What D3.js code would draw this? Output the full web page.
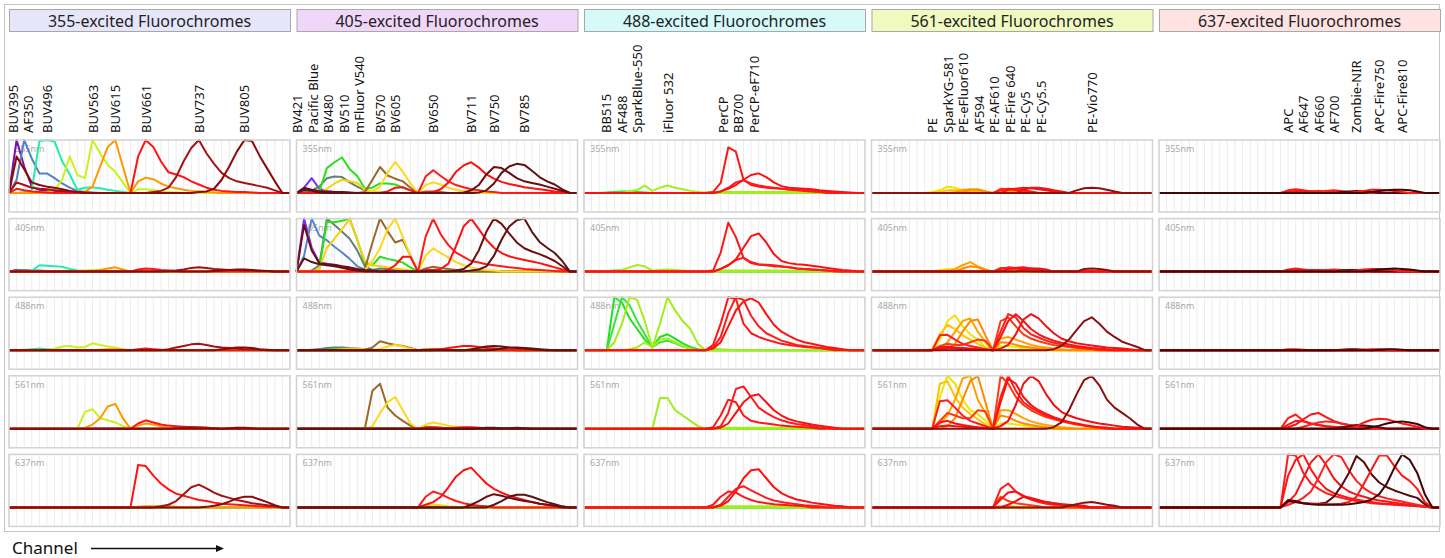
<!DOCTYPE html>
<html>
<head>
<meta charset="utf-8">
<script src="https://cdn.jsdelivr.net/npm/d3@7"></script>
<style>
  body { margin: 0; background: #fff; }
  svg { display: block; font-family: 'Noto Sans', 'Open Sans', sans-serif; }
</style>
</head>
<body>
<svg id="chart" width="1445" height="558"></svg>
<script>
// channels per laser detector array
const NCH = 38;
const lasers = ['355nm', '405nm', '488nm', '561nm', '637nm'];
const titles = ['355-excited Fluorochromes', '405-excited Fluorochromes', '488-excited Fluorochromes',
  '561-excited Fluorochromes', '637-excited Fluorochromes'];

// spectra: one entry per laser row, each a list of segments [startChannel, values...]
const names355 = ['BUV395', 'AF350', 'BUV496', 'BUV563', 'BUV615', 'BUV661', 'BUV737', 'BUV805'];
const colors355 = ['#7a10aa', '#5283c4', '#24eea4', '#c8f21e', '#ff9800', '#ff1414', '#a31414', '#8c0909'];
const spectra355 = [
  [[[0, 0, 1.0, 0.5, 0.12, 0.06, 0.04, 0.03, 0.02, 0.01]], [[0, 0, 0.03, 0.02, 0.01]], [], [], []],
  [[[0, 0, 0.25, 1.0, 0.65, 0.37, 0.37, 0.28, 0.18, 0.1, 0.04, 0.02, 0.01]], [[0, 0, 0.02, 0.03, 0.02, 0.02, 0.01]], [], [], []],
  [[[2, 0.02, 0.05, 0.98, 1.0, 0.97, 0.6, 0.35, 0.06, 0.1, 0.11, 0.09, 0.06, 0.04, 0.02]],
   [[2, 0.01, 0.01, 0.12, 0.11, 0.1, 0.09, 0.05, 0.02, 0.01]],
   [[2, 0.01, 0.02, 0.03, 0.02, 0.02, 0.01]], [], []],
  [[[5, 0.02, 0.05, 0.25, 0.69, 0.34, 0.28, 1.0, 0.75, 0.53, 0.4, 0.2, 0, 0.07, 0.07, 0.05, 0.03, 0.02, 0.01]],
   [[9, 0.01, 0.02, 0.03, 0.02, 0.01]],
   [[6, 0.03, 0.07, 0.08, 0.05, 0.06, 0.13, 0.1, 0.07, 0.05, 0.02, 0]],
   [[9, 0, 0.32, 0.37, 0.2, 0.16, 0.12, 0.05, 0]], []],
  [[[10, 0.02, 0.12, 0.5, 0.87, 1.0, 0.5, 0, 0.22, 0.29, 0.26, 0.18, 0.12, 0.09, 0.06, 0.04, 0.03, 0.02, 0.01]],
   [[11, 0.01, 0.03, 0.06, 0.08, 0.04, 0, 0.02, 0.02, 0.01]],
   [[12, 0.01, 0.02, 0.02, 0.01]],
   [[10, 0.02, 0.08, 0.2, 0.42, 0.47, 0.2, 0, 0.06, 0.1, 0.08, 0.05, 0.03, 0.02, 0.01]],
   [[17, 0.01, 0.02, 0.02, 0.02, 0.02, 0.01]]],
  [[[0, 0, 0.08, 0.05, 0.03, 0.02, 0.01], [16, 0, 0.69, 1.0, 0.87, 0.6, 0.39, 0.35, 0.3, 0.22, 0.16, 0.1, 0.06, 0.04, 0.03, 0.02, 0.02, 0.01]],
   [[16, 0, 0.04, 0.06, 0.05, 0.03, 0.02, 0.01]],
   [[16, 0, 0.02, 0.03, 0.02, 0.01]],
   [[16, 0, 0.1, 0.16, 0.12, 0.08, 0.06, 0.05, 0.04, 0.03, 0.03, 0.02, 0.01]],
   [[16, 0, 0.8, 0.78, 0.6, 0.45, 0.34, 0.26, 0.22, 0.18, 0.14, 0.12, 0.09, 0.07, 0.06, 0.05, 0.04, 0.03, 0.02, 0.01, 0.01, 0]]],
  [[[0, 0, 0.2, 0.15, 0.1, 0.08, 0.07, 0.05, 0.04, 0.03, 0.02], [19, 0.02, 0.04, 0.1, 0.3, 0.6, 0.85, 1.0, 0.75, 0.55, 0.38, 0.28, 0.22, 0.19, 0.16, 0.13, 0.1, 0.05, 0]],
   [[21, 0.01, 0.02, 0.04, 0.07, 0.08, 0.07, 0.05, 0.04, 0.03, 0.03, 0.02, 0.02, 0.01, 0.01]],
   [[21, 0.02, 0.05, 0.08, 0.11, 0.12, 0.1, 0.07, 0.05, 0.04, 0.03, 0.02, 0.02, 0.01]],
   [[22, 0.01, 0.02, 0.03, 0.02, 0.02, 0.01]],
   [[20, 0.02, 0.05, 0.12, 0.25, 0.38, 0.43, 0.36, 0.28, 0.22, 0.18, 0.14, 0.11, 0.08, 0.06, 0.04, 0.02, 0]]],
  [[[0, 0, 0.69, 0.45, 0.2, 0.15, 0.12, 0.1, 0.07, 0.04, 0.02, 0.01], [25, 0.02, 0.03, 0.08, 0.25, 0.5, 0.78, 1.0, 0.98, 0.7, 0.46, 0.22, 0]],
   [[27, 0.01, 0.02, 0.03, 0.04, 0.04, 0.03, 0.02, 0.01]],
   [[28, 0.02, 0.03, 0.05, 0.05, 0.04, 0.02, 0.01]],
   [[29, 0.01, 0.02, 0.02, 0.01]],
   [[26, 0.01, 0.03, 0.06, 0.11, 0.17, 0.2, 0.2, 0.15, 0.1, 0.04, 0]]]
];

const names405 = ['BV421', 'Pacific Blue', 'BV480', 'BV510', 'mFluor V540', 'BV570', 'BV605', 'BV650', 'BV711', 'BV750', 'BV785'];
const colors405 = ['#7b2cf5', '#5486c8', '#5f8271', '#2ae01c', '#f7cf10', '#9a682c', '#ffd81c', '#ff1a1a', '#ff1010', '#6e0e0e', '#5e1313'];
const spectra405 = [
  [[[0, 0, 0.1, 0.28, 0.08, 0.03, 0.02, 0.01]], [[0, 0, 1.0, 0.45, 0.17, 0.15, 0.12, 0.09, 0.06, 0.03, 0.02, 0.01]], [], [], []],
  [[[0, 0, 0.02, 0.05, 0.03, 0.03, 0.02, 0.01]], [[0, 0, 0.3, 1.0, 0.68, 0.59, 0.47, 0.36, 0.24, 0.1, 0.04, 0.02]], [[2, 0.01, 0.02, 0.02, 0.01]], [], []],
  [[[1, 0.02, 0.05, 0.12, 0.28, 0.31, 0.3, 0.2, 0.12, 0.05, 0.02]],
   [[2, 0.02, 0.12, 1.0, 0.88, 0.75, 0.62, 0.4, 0.1, 0.03, 0.06, 0.05, 0.04, 0.02, 0]],
   [[3, 0.02, 0.04, 0.05, 0.05, 0.04, 0.03, 0.02, 0.01]], [], []],
  [[[3, 0.02, 0.47, 0.58, 0.67, 0.45, 0.32, 0.08, 0.1, 0.18, 0.18, 0.16, 0.1, 0.05, 0]],
   [[3, 0.05, 0.94, 0.93, 0.96, 1.0, 0.6, 0.16, 0.12, 0.28, 0.24, 0.21, 0.17, 0.08, 0]],
   [[4, 0.01, 0.02, 0.02, 0.01]], [], []],
  [[[4, 0.08, 0.18, 0.25, 0.22, 0.19, 0.06, 0.03, 0.02, 0.01]],
   [[3, 0.05, 0.45, 0.62, 0.8, 0.99, 0.6, 0.2, 0.12, 0.1, 0.08, 0.06, 0.04, 0.02]],
   [[6, 0.02, 0.03, 0.03, 0.02, 0.01]], [[7, 0.01, 0.01]], []],
  [[[9, 0.02, 0.25, 0.49, 0.33, 0.27, 0.22, 0.1, 0, 0.03, 0.03, 0.02]],
   [[8, 0.02, 0.05, 0.55, 1.0, 0.76, 0.55, 0.6, 0.3, 0, 0.06, 0.09, 0.07, 0.05, 0.03, 0.02]],
   [[9, 0.01, 0.05, 0.17, 0.13, 0.1, 0.08, 0.04, 0, 0.02, 0.02, 0.01]],
   [[9, 0, 0.72, 0.85, 0.4, 0.25, 0.15, 0.06, 0, 0.04, 0.03, 0.02]],
   [[17, 0.01, 0.02, 0.01]]],
  [[[10, 0.03, 0.12, 0.38, 0.59, 0.4, 0.18, 0, 0.15, 0.2, 0.16, 0.1, 0.06, 0.04, 0.02]],
   [[9, 0.03, 0.2, 0.44, 0.8, 1.0, 0.65, 0.3, 0, 0.3, 0.44, 0.35, 0.27, 0.18, 0.12, 0.08, 0.05, 0.03, 0.02]],
   [[11, 0.03, 0.07, 0.1, 0.07, 0.03, 0, 0.02, 0.02, 0.01]],
   [[10, 0.05, 0.3, 0.5, 0.6, 0.35, 0.1, 0, 0.08, 0.12, 0.09, 0.06, 0.04, 0.02]],
   [[17, 0.03, 0.05, 0.04, 0.02, 0.01]]],
  [[[16, 0, 0.31, 0.43, 0.32, 0.22, 0.15, 0.11, 0.07, 0.05, 0.03, 0.02]],
   [[16, 0, 0.66, 1.0, 0.7, 0.5, 0.36, 0.28, 0.2, 0.17, 0.14, 0.12, 0.1, 0.08, 0.07, 0.05, 0.04, 0.03, 0.02, 0.01]],
   [[17, 0.01, 0.02, 0.02, 0.01]],
   [[17, 0.02, 0.03, 0.02, 0.01]],
   [[16, 0, 0.2, 0.3, 0.25, 0.18, 0.12, 0.08, 0.05, 0.03, 0.02]]],
  [[[12, 0.03, 0.1, 0.11, 0.05, 0, 0.01, 0.02, 0.07, 0.2, 0.4, 0.52, 0.58, 0.48, 0.35, 0.27, 0.21, 0.17, 0.14, 0.11, 0.09, 0.07, 0.05, 0.03, 0.02, 0]],
   [[12, 0.03, 0.12, 0.28, 0.28, 0, 0.03, 0.03, 0.05, 0.15, 0.48, 0.85, 1.0, 0.8, 0.6, 0.45, 0.35, 0.29, 0.25, 0.22, 0.19, 0.16, 0.12, 0.08, 0.04, 0]],
   [[19, 0.02, 0.04, 0.06, 0.08, 0.08, 0.06, 0.04, 0.03, 0.02, 0.01]],
   [[20, 0.01, 0.02, 0.03, 0.03, 0.02, 0.01]],
   [[16, 0, 0.05, 0.1, 0.2, 0.38, 0.58, 0.7, 0.75, 0.6, 0.45, 0.35, 0.28, 0.22, 0.18, 0.14, 0.1, 0.07, 0.05, 0.03, 0.01]]],
  [[[0, 0, 0.1, 0.06, 0.04, 0.03, 0.02, 0.02, 0.01], [22, 0.01, 0.05, 0.15, 0.35, 0.49, 0.47, 0.38, 0.28, 0.22, 0.19, 0.16, 0.12, 0.08, 0.04, 0]],
   [[0, 0, 0.88, 0.4, 0.16, 0.14, 0.13, 0.1, 0.08, 0.05, 0.03, 0.02], [21, 0.02, 0.05, 0.15, 0.4, 0.75, 1.0, 0.9, 0.72, 0.55, 0.44, 0.38, 0.33, 0.27, 0.2, 0.1, 0]],
   [[23, 0.02, 0.04, 0.07, 0.08, 0.07, 0.05, 0.04, 0.03, 0.02, 0.01]],
   [[24, 0.01, 0.02, 0.02, 0.01]],
   [[23, 0.05, 0.12, 0.2, 0.25, 0.22, 0.18, 0.15, 0.12, 0.1, 0.07, 0.05, 0.03]]],
  [[[0, 0, 0.06, 0.04, 0.01], [24, 0.01, 0.05, 0.18, 0.38, 0.5, 0.55, 0.53, 0.42, 0.3, 0.22, 0.16, 0.07, 0]],
   [[0, 0, 0.25, 0.18, 0.14, 0.12, 0.1, 0.07, 0.04, 0.02], [23, 0.02, 0.04, 0.1, 0.3, 0.6, 0.85, 0.97, 1.0, 0.75, 0.56, 0.45, 0.35, 0.2, 0]],
   [[26, 0.01, 0.03, 0.05, 0.05, 0.04, 0.03, 0.02, 0.01]],
   [[28, 0.01, 0.02, 0.01]],
   [[26, 0.05, 0.12, 0.2, 0.24, 0.24, 0.2, 0.15, 0.1, 0.06, 0.02]]]
];

const names488 = ['BB515', 'AF488', 'SparkBlue-550', 'iFluor 532', 'PerCP', 'BB700', 'PerCP-eF710'];
const colors488 = ['#1fe21f', '#3be23b', '#a4ee1e', '#9fee1a', '#ff1616', '#ff1b1b', '#ff1010'];
const spectra488 = [
  [[[3, 0.01, 0.02, 0.03, 0.03, 0.02, 0.01]], [[3, 0.01, 0.02, 0.02, 0.01]],
   [[3, 0, 1.0, 0.9, 0.6, 0.4, 0.2, 0.06, 0.25, 0.3, 0.22, 0.13, 0.06, 0.02, 0]], [], []],
  [[[4, 0.01, 0.02, 0.02, 0.01]], [[5, 0.01, 0.01]],
   [[3, 0, 0.5, 1.0, 0.85, 0.55, 0.3, 0.05, 0.15, 0.18, 0.13, 0.07, 0.03, 0]], [], []],
  [[[6, 0.03, 0.06, 0.14, 0.04, 0.1, 0.14, 0.1, 0.07, 0.04, 0.02, 0]],
   [[5, 0.03, 0.08, 0.125, 0.1, 0.02, 0.03, 0.04, 0.03, 0.02, 0.01]],
   [[3, 0, 0.15, 0.5, 1.0, 0.95, 0.55, 0.05, 0.2, 0.22, 0.15, 0.08, 0.03, 0]],
   [[9, 0.01, 0.02, 0.02, 0.01]], []],
  [[[16, 0.01, 0.02, 0.02, 0.02, 0.02, 0.02, 0.02, 0.02, 0.02, 0.02, 0.02, 0.02, 0.02, 0.01]],
   [[16, 0.01, 0.02, 0.02, 0.02, 0.02, 0.02, 0.02, 0.02, 0.02, 0.02, 0.02, 0.02, 0.01]],
   [[6, 0.02, 0.05, 0.15, 0.05, 0.5, 1.0, 0.75, 0.55, 0.4, 0.12, 0, 0.03, 0.02, 0.01]],
   [[9, 0, 0.58, 0.58, 0.35, 0.25, 0.15, 0.05, 0, 0.02, 0.02, 0.02, 0.02, 0.02, 0.02, 0.02, 0.02, 0.02, 0.02, 0.02, 0.01]],
   [[16, 0.01, 0.02, 0.02, 0.02, 0.02, 0.02, 0.02, 0.02, 0.02, 0.02, 0.02, 0.02, 0.01]]],
  [[[17, 0.02, 0.19, 0.86, 0.78, 0.25, 0.15, 0.12, 0.1, 0.09, 0.08, 0.07, 0.06, 0.05, 0.04, 0.03, 0.02, 0.01]],
   [[17, 0.02, 0.36, 0.92, 0.65, 0.26, 0.16, 0.13, 0.12, 0.1, 0.09, 0.08, 0.06, 0.05, 0.04, 0.03, 0.02, 0.01]],
   [[16, 0, 0.1, 0.5, 1.0, 0.97, 0.5, 0.32, 0.25, 0.2, 0.16, 0.12, 0.1, 0.08, 0.06, 0.05, 0.04, 0.03, 0.02, 0.01]],
   [[17, 0.03, 0.25, 0.55, 0.5, 0.25, 0.15, 0.12, 0.1, 0.08, 0.06, 0.05, 0.04, 0.03, 0.02]],
   [[17, 0.05, 0.2, 0.3, 0.28, 0.2, 0.14, 0.1, 0.08, 0.06, 0.05, 0.04, 0.03, 0.02]]],
  [[[18, 0.03, 0.1, 0.2, 0.24, 0.18, 0.14, 0.12, 0.1, 0.08, 0.06, 0.05, 0.04, 0.03, 0.02]],
   [[18, 0.05, 0.12, 0.22, 0.26, 0.18, 0.14, 0.13, 0.12, 0.1, 0.08, 0.06, 0.05, 0.04, 0.03, 0.02]],
   [[16, 0, 0.05, 0.25, 0.7, 1.0, 0.95, 0.65, 0.45, 0.32, 0.25, 0.18, 0.14, 0.1, 0.08, 0.06, 0.04, 0.02]],
   [[18, 0.05, 0.3, 0.75, 0.8, 0.6, 0.4, 0.3, 0.22, 0.16, 0.12, 0.09, 0.07, 0.05, 0.03, 0.02]],
   [[18, 0.05, 0.2, 0.35, 0.4, 0.32, 0.25, 0.18, 0.13, 0.1, 0.08, 0.06, 0.04, 0.03, 0.02]]],
  [[[18, 0.03, 0.08, 0.15, 0.25, 0.34, 0.37, 0.3, 0.2, 0.13, 0.1, 0.09, 0.08, 0.07, 0.05, 0.04, 0.03, 0.02, 0.01]],
   [[18, 0.05, 0.12, 0.23, 0.45, 0.67, 0.72, 0.55, 0.33, 0.2, 0.16, 0.14, 0.13, 0.11, 0.09, 0.07, 0.05, 0.03, 0.02]],
   [[16, 0, 0.03, 0.15, 0.45, 0.75, 0.92, 0.98, 0.9, 0.68, 0.48, 0.35, 0.27, 0.2, 0.15, 0.12, 0.09, 0.06, 0.04, 0.02]],
   [[18, 0.02, 0.1, 0.3, 0.5, 0.62, 0.65, 0.5, 0.35, 0.25, 0.18, 0.14, 0.11, 0.08, 0.06, 0.04, 0.02]],
   [[18, 0.03, 0.12, 0.3, 0.55, 0.7, 0.72, 0.55, 0.38, 0.27, 0.2, 0.15, 0.12, 0.09, 0.07, 0.05, 0.03, 0.02]]]
];

const names561 = ['PE', 'SparkYG-581', 'PE-eFluor610', 'AF594', 'PE-AF610', 'PE-Fire 640', 'PE-Cy5', 'PE-Cy5.5', 'PE-Vio770'];
const colors561 = ['#f2e400', '#ffc400', '#ffa200', '#ff8a00', '#ff3a10', '#ff1c1c', '#ff1010', '#f01212', '#8c1010'];
const spectra561 = [
  [[[8, 0.02, 0.05, 0.12, 0.1, 0.05, 0.03, 0.02]], [[9, 0.03, 0.05, 0.04, 0.02]],
   [[8, 0, 0.2, 0.55, 0.66, 0.45, 0.3, 0.2, 0.05, 0, 0.07, 0.08, 0.06, 0.04, 0.03, 0.02]],
   [[8, 0, 0.6, 1.0, 0.85, 0.55, 0.35, 0.28, 0.15, 0, 0.1, 0.1, 0.08, 0.06, 0.04, 0.03, 0.02]], []],
  [[[9, 0.02, 0.05, 0.05, 0.04, 0.03, 0.01]], [[9, 0.01, 0.02, 0.02, 0.01]],
   [[8, 0.02, 0.3, 0.48, 0.4, 0.28, 0.2, 0.12, 0.05, 0]],
   [[8, 0, 0.85, 0.9, 0.6, 0.4, 0.28, 0.18, 0.08, 0]], []],
  [[[11, 0.02, 0.06, 0.07, 0.05, 0.03, 0, 0.05, 0.04, 0.02]],
   [[11, 0.05, 0.12, 0.18, 0.1, 0.04, 0, 0.06, 0.06, 0.04, 0.02]],
   [[9, 0.05, 0.15, 0.35, 0.55, 0.6, 0.35, 0.15, 0, 0.22, 0.25, 0.2, 0.15, 0.1, 0.07, 0.05, 0.03, 0.02]],
   [[9, 0.1, 0.25, 0.55, 0.95, 1.0, 0.55, 0.3, 0, 0.35, 0.35, 0.28, 0.2, 0.14, 0.1, 0.07, 0.05, 0.03, 0.02]],
   [[17, 0.02, 0.02, 0.01]]],
  [[[12, 0.02, 0.06, 0.07, 0.03]], [[12, 0.06, 0.1, 0.08, 0.03]],
   [[10, 0.03, 0.12, 0.35, 0.55, 0.58, 0.28, 0, 0.15, 0.14, 0.1, 0.07, 0.05, 0.03, 0.02]],
   [[10, 0.05, 0.2, 0.55, 0.9, 1.0, 0.5, 0, 0.25, 0.22, 0.15, 0.1, 0.07, 0.05, 0.03]], []],
  [[[17, 0.08, 0.07, 0.05, 0.04, 0.02]], [[17, 0.07, 0.07, 0.05, 0.03]],
   [[9, 0.08, 0.12, 0.1, 0.1, 0.15, 0.2, 0.18, 0, 0.55, 0.62, 0.45, 0.3, 0.22, 0.17, 0.13, 0.1, 0.08, 0.06, 0.04, 0.03, 0.02]],
   [[9, 0.15, 0.3, 0.25, 0.2, 0.2, 0.35, 0.33, 0, 1.0, 0.85, 0.6, 0.45, 0.35, 0.28, 0.22, 0.18, 0.14, 0.11, 0.08, 0.06, 0.04, 0.03, 0.02]],
   [[17, 0.2, 0.12, 0.08, 0.06, 0.04, 0.02]]],
  [[[17, 0.05, 0.08, 0.07, 0.05, 0.03]], [[17, 0.05, 0.08, 0.07, 0.05, 0.03]],
   [[9, 0.28, 0.29, 0.2, 0.12, 0.08, 0.05, 0.02, 0, 0.35, 0.68, 0.62, 0.42, 0.3, 0.24, 0.18, 0.14, 0.11, 0.08, 0.06, 0.04, 0.03, 0.02]],
   [[9, 0.52, 0.54, 0.4, 0.25, 0.15, 0.1, 0.05, 0, 0.6, 1.0, 0.72, 0.5, 0.4, 0.32, 0.25, 0.2, 0.16, 0.12, 0.09, 0.06, 0.04, 0.02]],
   [[16, 0, 0.35, 0.45, 0.3, 0.2, 0.15, 0.1, 0.07, 0.05, 0.04, 0.03, 0.02]]],
  [[[18, 0.06, 0.08, 0.1, 0.09, 0.07, 0.05, 0.03]], [[18, 0.05, 0.07, 0.08, 0.06, 0.04]],
   [[9, 0.05, 0.07, 0.05, 0.04, 0.03, 0.02, 0.01, 0, 0.25, 0.55, 0.68, 0.55, 0.4, 0.3, 0.23, 0.18, 0.14, 0.11, 0.08, 0.06, 0.04, 0.03, 0.02]],
   [[9, 0.12, 0.15, 0.1, 0.07, 0.05, 0.03, 0.02, 0, 0.5, 0.95, 0.85, 0.6, 0.45, 0.35, 0.28, 0.22, 0.17, 0.13, 0.1, 0.07, 0.05, 0.03, 0.02]],
   [[17, 0.15, 0.28, 0.3, 0.22, 0.16, 0.12, 0.1, 0.08, 0.06, 0.04, 0.03]]],
  [[[20, 0.06, 0.1, 0.1, 0.08, 0.05, 0.03]], [[20, 0.04, 0.06, 0.06, 0.04]],
   [[9, 0.03, 0.04, 0.03, 0.02, 0.02, 0.01, 0.01, 0, 0.03, 0.1, 0.3, 0.58, 0.68, 0.6, 0.45, 0.32, 0.22, 0.17, 0.13, 0.11, 0.09, 0.07, 0.05, 0.04, 0.03, 0.02]],
   [[9, 0.05, 0.06, 0.05, 0.04, 0.03, 0.02, 0.01, 0, 0.05, 0.15, 0.45, 0.85, 1.0, 0.9, 0.65, 0.45, 0.32, 0.25, 0.2, 0.16, 0.13, 0.1, 0.08, 0.06, 0.04, 0.03, 0.02]],
   [[18, 0.05, 0.12, 0.2, 0.18, 0.14, 0.1, 0.08, 0.06, 0.05, 0.04, 0.03]]],
  [[[27, 0.05, 0.09, 0.1, 0.09, 0.06, 0.03]], [[28, 0.05, 0.06, 0.05, 0.03]],
   [[24, 0.02, 0.08, 0.2, 0.38, 0.55, 0.62, 0.5, 0.35, 0.25, 0.16, 0.11, 0.06, 0]],
   [[24, 0.03, 0.12, 0.35, 0.65, 0.92, 1.0, 0.82, 0.55, 0.4, 0.3, 0.2, 0.08, 0]],
   [[26, 0.03, 0.06, 0.09, 0.1, 0.08, 0.05, 0.03]]]
];

const names637 = ['APC', 'AF647', 'AF660', 'AF700', 'Zombie-NIR', 'APC-Fire750', 'APC-Fire810'];
const colors637 = ['#ff1a1a', '#ff1212', '#f51616', '#ff2020', '#560c0c', '#ff1616', '#3e0606'];
const spectra637 = [
  [[[16, 0, 0.05, 0.07, 0.05, 0.03, 0.02]], [[16, 0, 0.04, 0.06, 0.04, 0.02]], [[17, 0.02, 0.02, 0.01]],
   [[16, 0, 0.2, 0.27, 0.15, 0.1, 0.07, 0.05, 0.04, 0.03, 0.02]],
   [[16, 0, 1.0, 0.98, 0.65, 0.45, 0.35, 0.27, 0.22, 0.18, 0.15, 0.12, 0.1, 0.08, 0.07, 0.06, 0.05, 0.04, 0.03, 0.02, 0.01, 0]]],
  [[[17, 0.02, 0.04, 0.04, 0.03, 0.02]], [[17, 0.02, 0.03, 0.03, 0.02]], [],
   [[17, 0.08, 0.15, 0.14, 0.1, 0.07, 0.05, 0.03]],
   [[16, 0, 0.6, 0.9, 1.0, 0.72, 0.5, 0.35, 0.27, 0.22, 0.18, 0.15, 0.12, 0.1, 0.08, 0.07, 0.06, 0.05, 0.04, 0.03, 0.01]]],
  [[[19, 0.02, 0.03, 0.04, 0.03, 0.02]], [[19, 0.02, 0.03, 0.03, 0.02]], [],
   [[17, 0.03, 0.08, 0.18, 0.27, 0.3, 0.22, 0.15, 0.1, 0.07, 0.05, 0.03]],
   [[16, 0, 0.1, 0.25, 0.55, 0.85, 1.0, 0.8, 0.55, 0.4, 0.3, 0.24, 0.2, 0.16, 0.13, 0.11, 0.09, 0.07, 0.05, 0.03, 0.01]]],
  [[[21, 0.02, 0.04, 0.05, 0.04, 0.02]], [[21, 0.02, 0.03, 0.04, 0.03, 0.02]], [],
   [[19, 0.04, 0.08, 0.12, 0.14, 0.13, 0.1, 0.07, 0.05, 0.03]],
   [[16, 0, 0.05, 0.1, 0.18, 0.3, 0.55, 0.85, 1.0, 0.95, 0.7, 0.5, 0.36, 0.27, 0.21, 0.17, 0.14, 0.11, 0.08, 0.05, 0.02]]],
  [[[24, 0.02, 0.03, 0.04, 0.03, 0.02]], [[24, 0.02, 0.03, 0.03, 0.02]], [[24, 0.01, 0.02, 0.02, 0.01]],
   [[24, 0.03, 0.05, 0.07, 0.06, 0.05, 0.03]],
   [[16, 0, 0.14, 0.12, 0.08, 0.07, 0.07, 0.09, 0.2, 0.4, 0.65, 0.97, 0.85, 0.62, 0.47, 0.38, 0.32, 0.27, 0.22, 0.18, 0.06, 0]]],
  [[[26, 0.02, 0.04, 0.06, 0.06, 0.05, 0.04, 0.02]], [[26, 0.02, 0.04, 0.05, 0.05, 0.04, 0.02]], [[27, 0.01, 0.02, 0.02, 0.01]],
   [[26, 0.05, 0.12, 0.17, 0.19, 0.18, 0.14, 0.1, 0.07, 0.04]],
   [[16, 0, 0.12, 0.1, 0.08, 0.07, 0.06, 0.06, 0.06, 0.07, 0.1, 0.2, 0.45, 0.72, 0.98, 0.98, 0.78, 0.6, 0.5, 0.35, 0.1, 0]]],
  [[[28, 0.02, 0.04, 0.05, 0.06, 0.06, 0.05, 0.03]], [[28, 0.02, 0.04, 0.05, 0.06, 0.05, 0.04, 0.02]], [[29, 0.01, 0.02, 0.02, 0.01]],
   [[28, 0.03, 0.06, 0.1, 0.13, 0.14, 0.12, 0.09, 0.03]],
   [[16, 0, 0.12, 0.1, 0.08, 0.06, 0.05, 0.05, 0.05, 0.05, 0.06, 0.08, 0.1, 0.15, 0.25, 0.45, 0.75, 1.0, 0.9, 0.65, 0.25, 0]]]
];

const headerFills = ['#e6e6fa', '#f0d6f8', '#d6fafa', '#f0fac0', '#ffe3e3'];

const panels = [
  {names: names355, colors: colors355, spectra: spectra355},
  {names: names405, colors: colors405, spectra: spectra405},
  {names: names488, colors: colors488, spectra: spectra488},
  {names: names561, colors: colors561, spectra: spectra561},
  {names: names637, colors: colors637, spectra: spectra637}
].map((p, i) => Object.assign(p, {title: titles[i], fill: headerFills[i]}));

// layout
const COL_X0 = 9, COL_STEP = 287.5, CELL_W = 281;
const ROW_Y0 = 140, ROW_STEP = 78.6, CELL_H = 72;
const LABEL_GAP = 15.5;

const svg = d3.select('#chart');

const x = d3.scaleLinear().domain([0, NCH - 1]).range([0, CELL_W]);
const y = d3.scaleLinear().domain([0, 1]).range([53, 0]);
const line = d3.line().x((d, i) => x(i)).y(d => y(d));

function expand(segments) {
  const a = new Array(NCH).fill(0);
  segments.forEach(seg => seg.slice(1).forEach((v, i) => { a[seg[0] + i] = v; }));
  return a;
}

// push overlapping labels apart, keeping their centre
function spread(xs, gap) {
  const p = xs.slice();
  for (let it = 0; it < 400; it++) {
    for (let i = 1; i < p.length; i++) {
      const d = p[i] - p[i - 1];
      if (d < gap) {
        const s = (gap - d) / 2;
        p[i - 1] -= s;
        p[i] += s;
      }
    }
  }
  return p;
}

/* outer frame */
svg.append('rect')
  .attr('x', 4.5).attr('y', 4.5).attr('width', 1435).attr('height', 527)
  .attr('fill', 'none').attr('stroke', '#c6c6c6').attr('stroke-width', 1);

panels.forEach((p, c) => {
  const g = svg.append('g').attr('transform', `translate(${COL_X0 + c * COL_STEP}, 0)`);

  /* HEADER */
  g.append('rect')
    .attr('x', 0.5).attr('y', 9.5).attr('width', CELL_W).attr('height', 22)
    .attr('fill', p.fill).attr('stroke', '#a8a8a8');
  g.append('text')
    .attr('x', CELL_W / 2).attr('y', 26.5)
    .attr('text-anchor', 'middle')
    .attr('font-size', 16).attr('fill', '#222')
    .text(p.title);

  const curves = p.spectra.map(s => s.map(expand));

  /* FLUOROCHROME LABELS at the peak of the own-laser spectrum */
  const peaks = curves.map(rows => {
    const own = rows[c];
    return x(d3.maxIndex(own));
  });
  const lx = spread(peaks, LABEL_GAP);
  g.selectAll('text.fl')
    .data(p.names)
    .enter()
    .append('text')
    .attr('class', 'fl')
    .attr('transform', (d, i) => `translate(${lx[i] + 5}, 133) rotate(-90)`)
    .attr('font-size', 13).attr('fill', '#111')
    .text(d => d);

  /* CELLS */
  lasers.forEach((laser, r) => {
    const cell = g.append('g').attr('transform', `translate(0, ${ROW_Y0 + r * ROW_STEP})`);

    cell.selectAll('line.grid')
      .data(d3.range(NCH))
      .enter()
      .append('line')
      .attr('x1', d => x(d)).attr('x2', d => x(d))
      .attr('y1', 1).attr('y2', CELL_H - 1)
      .attr('stroke', '#ececec').attr('stroke-width', 1);

    cell.append('text')
      .attr('x', 6).attr('y', 12)
      .attr('font-size', 9).attr('fill', '#a9a9a9')
      .text(laser);

    cell.selectAll('path.sp')
      .data(curves.map((rows, i) => ({v: rows[r], color: p.colors[i]})))
      .enter()
      .append('path')
      .attr('class', 'sp')
      .attr('d', d => line(d.v))
      .attr('fill', 'none')
      .attr('stroke', d => d.color)
      .attr('stroke-width', 2)
      .attr('stroke-linejoin', 'round');

    cell.append('rect')
      .attr('x', 0).attr('y', 0).attr('width', CELL_W).attr('height', CELL_H)
      .attr('fill', 'none').attr('stroke', '#d2d2d2').attr('stroke-width', 1.5);
  });
});

/* AXIS NOTE */
svg.append('text')
  .attr('x', 12).attr('y', 554)
  .attr('font-size', 17).attr('fill', '#111')
  .text('Channel');
svg.append('line')
  .attr('x1', 91).attr('x2', 216).attr('y1', 548.5).attr('y2', 548.5)
  .attr('stroke', '#111').attr('stroke-width', 1.3);
svg.append('path')
  .attr('d', 'M216,545 L224,548.5 L216,552 Z')
  .attr('fill', '#111');
</script>
</body>
</html>
